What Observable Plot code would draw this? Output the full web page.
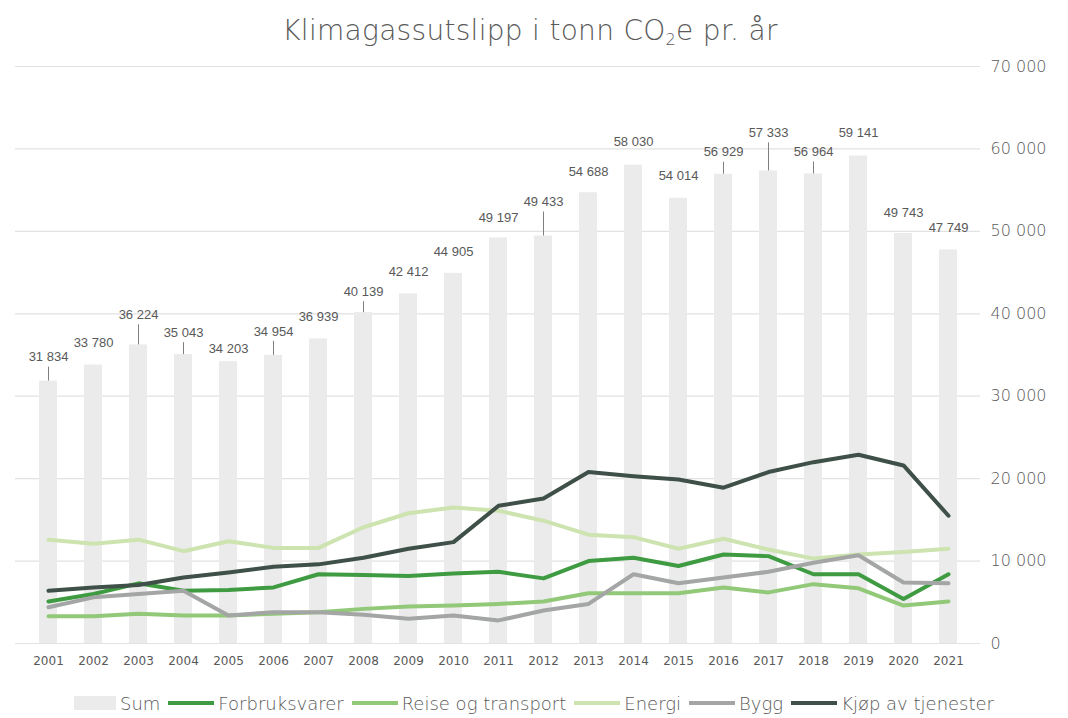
<!DOCTYPE html>
<html>
<head>
<meta charset="utf-8">
<script src="https://cdn.jsdelivr.net/npm/d3@7"></script>
<script src="https://cdn.jsdelivr.net/npm/@observablehq/plot@0.6"></script>
<style>
  html, body { margin: 0; padding: 0; background: #fff; }
  #wrap { width: 1068px; height: 718px; position: relative; font-family: "DejaVu Sans", "Open Sans", sans-serif; color: #595959; }
  #title { height: 50px; padding-top: 6px; box-sizing: content-box; text-align: center; font-size: 28px; font-weight: 200; line-height: 50px; padding-right: 8px; letter-spacing: 0.3px; }
  #title sub { font-size: 16px; vertical-align: -5px; line-height: 0; }
  #legend { display: flex; justify-content: center; align-items: center; height: 38px; margin-top: 4px; font-size: 18px; font-weight: 200; padding-right: 0px; }
  .item { display: flex; align-items: center; margin: 0 4px; }
  .sw { display: inline-block; width: 46px; height: 4px; margin-right: 4px; }
  .sw.bar { height: 14px; width: 42px; }
</style>
</head>
<body>
<div id="wrap">
  <div id="title">Klimagassutslipp i tonn CO<sub>2</sub>e pr. år</div>
  <div id="chart"></div>
  <div id="legend"></div>
</div>
<script>
// ---- data ----
const years = [2001, 2002, 2003, 2004, 2005, 2006, 2007, 2008, 2009, 2010, 2011, 2012, 2013, 2014, 2015, 2016, 2017, 2018, 2019, 2020, 2021];
const sum = [31834, 33780, 36224, 35043, 34203, 34954, 36939, 40139, 42412, 44905, 49197, 49433, 54688, 58030, 54014, 56929, 57333, 56964, 59141, 49743, 47749];
const forbruksvarer = [5100, 6000, 7300, 6400, 6500, 6800, 8400, 8300, 8200, 8500, 8700, 7900, 10000, 10400, 9400, 10800, 10600, 8400, 8400, 5400, 8400];
const reiseOgTransport = [3300, 3300, 3600, 3400, 3400, 3600, 3800, 4200, 4500, 4600, 4800, 5100, 6100, 6100, 6100, 6800, 6200, 7200, 6700, 4600, 5100];
const energi = [12600, 12100, 12600, 11200, 12400, 11600, 11600, 14100, 15800, 16500, 16100, 14900, 13200, 12900, 11500, 12700, 11400, 10300, 10800, 11100, 11500];
const bygg = [4400, 5600, 6000, 6400, 3400, 3800, 3800, 3500, 3000, 3400, 2800, 4000, 4800, 8400, 7300, 8000, 8700, 9800, 10700, 7400, 7300];
const kjopAvTjenester = [6400, 6800, 7100, 8000, 8600, 9300, 9600, 10400, 11500, 12300, 16700, 17600, 20800, 20300, 19900, 18900, 20800, 22000, 22900, 21600, 15500];
const seriesNames = ["Forbruksvarer", "Reise og transport", "Energi", "Bygg", "Kjøp av tjenester"];
const seriesValues = [forbruksvarer, reiseOgTransport, energi, bygg, kjopAvTjenester];
const yTicks = [0, 10000, 20000, 30000, 40000, 50000, 60000, 70000];

// ---- layout / style (not data) ----
const seriesColors = ["#3f9b41", "#92c978", "#cde3b0", "#a3a6a5", "#3e5048"];
const barColor = "#ebebeb";
const labelLift = [24, 22, 30, 22, 13, 24, 22, 21, 22, 22, 20, 34, 21, 23, 22, 22, 38, 22, 23, 21, 22]; // px above bar top
const hasLeader = [1, 0, 1, 1, 0, 1, 0, 1, 0, 0, 0, 1, 0, 0, 0, 1, 1, 1, 0, 0, 0];

const W = 1068, H = 624, MT = 10, MB = 37, ML = 15, MR = 88;
const yMax = 70000;
const k = (H - MT - MB) / yMax; // pixels per unit of the y scale's range

const fmt = d => d3.format(",")(d).replace(/,/g, " ");

const sumData = years.map((y, i) => ({year: y, value: sum[i], lift: labelLift[i], leader: hasLeader[i]}));
const lineData = seriesNames.flatMap((name, s) => years.map((y, i) => ({year: y, value: seriesValues[s][i], series: name})));

const chart = Plot.plot({
  width: W, height: H,
  marginTop: MT, marginBottom: MB, marginLeft: ML, marginRight: MR,
  style: {fontFamily: "'DejaVu Sans', sans-serif", color: "#595959", background: "white"},
  x: {type: "band", domain: years, paddingInner: 0.61, paddingOuter: 0.305},
  y: {domain: [0, yMax]},
  marks: [
    Plot.gridY(yTicks, {stroke: "#e2e2e2", strokeOpacity: 1, strokeWidth: 1.2}),
    Plot.barY(sumData, {x: "year", y: "value", fill: barColor}),
    Plot.ruleX(sumData.filter(d => d.leader), {x: "year", y1: "value", y2: d => d.value + (d.lift - 10) / k, stroke: "#7f7f7f", strokeWidth: 1}),
    ...seriesNames.map((name, s) =>
      Plot.line(lineData.filter(d => d.series === name), {x: "year", y: "value", stroke: seriesColors[s], strokeWidth: 4, strokeLinejoin: "round"})
    ),
    Plot.text(sumData, {x: "year", y: d => d.value + d.lift / k, text: d => fmt(d.value), fontFamily: "'Liberation Sans', Arial, sans-serif", fontSize: 13, fill: "#595959"}),
    Plot.axisX({tickSize: 0, tickPadding: 13, fontSize: 12, tickFormat: d => String(d), label: null}),
    Plot.axisY(yTicks, {anchor: "right", tickSize: 0, tickPadding: 10, fontSize: 16, fontWeight: 200, tickFormat: fmt, label: null})
  ]
});
document.getElementById("chart").appendChild(chart);

// legend
const legend = document.getElementById("legend");
const sumItem = document.createElement("div");
sumItem.className = "item";
sumItem.innerHTML = `<span class="sw bar" style="background:${barColor}"></span><span>Sum</span>`;
legend.appendChild(sumItem);
seriesNames.forEach((name, s) => {
  const it = document.createElement("div");
  it.className = "item";
  it.innerHTML = `<span class="sw" style="background:${seriesColors[s]}"></span><span>${name}</span>`;
  legend.appendChild(it);
});
</script>
</body>
</html>
